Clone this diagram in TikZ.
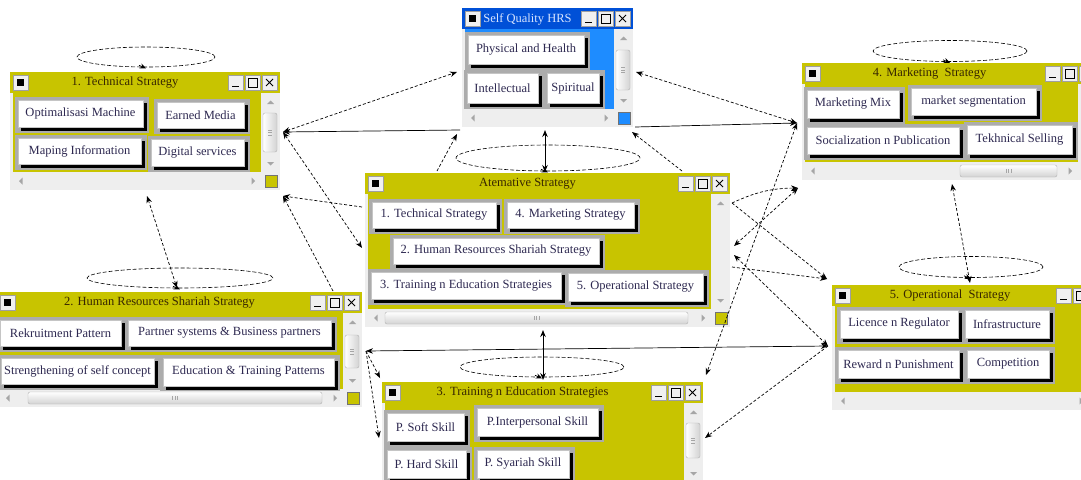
\documentclass[tikz,border=0pt]{standalone}
\usepackage{fontspec}
\setmainfont{Liberation Serif}
\usetikzlibrary{arrows.meta,calc,shapes.geometric}
\definecolor{ylw}{RGB}{200,196,0}
\definecolor{blu}{RGB}{0,80,215}
\definecolor{bluc}{RGB}{30,140,255}
\definecolor{wgray}{RGB}{238,238,238}
\definecolor{pgray}{RGB}{172,172,172}
\definecolor{txt}{RGB}{45,40,80}
\definecolor{ttl}{RGB}{55,38,0}
\definecolor{ttlw}{RGB}{215,228,255}
\newcommand\bfnt{\fontsize{12.5}{14}\selectfont}
\tikzset{
  btnface/.style={fill=white, draw=pgray!70, line width=0.6pt, inner sep=0pt, font=\bfnt, text=txt},
  ttlfont/.style={font=\bfnt, inner sep=0pt},
  tbb/.style={fill=gray!12, draw=gray!75, line width=0.6pt},
  loopell/.style={ellipse, draw, dash pattern=on 4pt off 2pt, line width=0.6pt, inner sep=0pt},
  conn/.style={line width=0.7pt},
  dsh/.style={conn, dash pattern=on 3pt off 2pt},
  tip/.style={-{Stealth[length=7pt,width=5.5pt]}},
  tips/.style={{Stealth[length=7pt,width=5.5pt]}-{Stealth[length=7pt,width=5.5pt]}},
}
% button: name, x1, y1, x2, y2, text
\newcommand\btn[6]{%
  \fill[pgray] (#2-3,#3-3) rectangle (#4+2,#5+2);
  \fill[black] (#2+3,#3+3) rectangle (#4,#5);
  \node[btnface, minimum width={#4-#2-4}, minimum height={#5-#3-4}] (#1) at ({(#2+#4-4)/2},{(#3+#5-4)/2}) {#6};
}
% window: name, x1, y1, x2, y2, title, bar colour, content colour, title colour
\newcommand\win[9]{%
  \fill[wgray] (#2,#3) rectangle (#4,#5);
  \fill[#7] (#2,#3) rectangle (#4,#3+21);
  \fill[#8] (#2+3,#3+21) rectangle (#4-19,#5-18);
  \node[ttlfont, text=#9] (#1) at ({(#2+#4-40)/2},#3+11) {#6};
  \draw[tbb] (#2+3,#3+3) rectangle (#2+18,#3+18);
  \fill[black] (#2+7,#3+7) rectangle (#2+14,#3+14);
  \draw[tbb] (#4-52,#3+3) rectangle (#4-37,#3+18);
  \draw[line width=1.8pt] (#4-48,#3+14.5) -- (#4-41,#3+14.5);
  \draw[tbb] (#4-35,#3+3) rectangle (#4-20,#3+18);
  \draw[line width=1pt] (#4-32,#3+6) rectangle (#4-23,#3+15);
  \draw[tbb] (#4-18,#3+3) rectangle (#4-3,#3+18);
  \draw[line width=1pt] (#4-14,#3+7) -- (#4-7,#3+14) (#4-14,#3+14) -- (#4-7,#3+7);
  \fill[gray!70] (#4-13,#3+32) -- (#4-6,#3+32) -- (#4-9.5,#3+28.5) -- cycle;
  \fill[gray!70] (#4-13,#5-28) -- (#4-6,#5-28) -- (#4-9.5,#5-24.5) -- cycle;
  \fill[gray!70] (#2+9,#5-9) -- (#2+12.5,#5-12.5) -- (#2+12.5,#5-5.5) -- cycle;
  \fill[gray!70] (#4-25,#5-9) -- (#4-28.5,#5-12.5) -- (#4-28.5,#5-5.5) -- cycle;
  \filldraw[fill=#8, draw=black!55, line width=0.5pt] (#4-15,#5-15) rectangle (#4-3,#5-3);
}
% vertical thumb: x2, ya, yb
\newcommand\vthumb[3]{%
  \shade[left color=white, right color=gray!35, draw=gray!60, rounded corners=2pt] (#1-17,#2) rectangle (#1-3,#3);
  \draw[gray!70, line width=0.5pt] (#1-12,{(#2+#3)/2-2.5}) -- (#1-8,{(#2+#3)/2-2.5})
    (#1-12,{(#2+#3)/2}) -- (#1-8,{(#2+#3)/2}) (#1-12,{(#2+#3)/2+2.5}) -- (#1-8,{(#2+#3)/2+2.5});
}
% horizontal thumb: xa, xb, y2
\newcommand\hthumb[3]{%
  \shade[top color=white, bottom color=gray!35, draw=gray!60, rounded corners=2pt] (#1,#3-15) rectangle (#2,#3-3);
  \draw[gray!70, line width=0.5pt] ({(#1+#2)/2-2.5},#3-11) -- ({(#1+#2)/2-2.5},#3-7)
    ({(#1+#2)/2},#3-11) -- ({(#1+#2)/2},#3-7) ({(#1+#2)/2+2.5},#3-11) -- ({(#1+#2)/2+2.5},#3-7);
}
\begin{document}
\begin{tikzpicture}[x=1pt,y=-1pt]
\useasboundingbox (0,0) rectangle (1081,479);
\clip (0,0) rectangle (1081,479);
\fill[white] (0,0) rectangle (1081,479);

% ---------- self loops ----------
\node[loopell, minimum width=138, minimum height=20] (l1) at (146,57) {};
\node[loopell, minimum width=184, minimum height=26] (l2) at (548,158) {};
\node[loopell, minimum width=154, minimum height=21] (l3) at (950,51) {};
\node[loopell, minimum width=186, minimum height=20] (l4) at (180,278) {};
\node[loopell, minimum width=164, minimum height=20] (l5) at (542,367) {};
\node[loopell, minimum width=144, minimum height=21] (l6) at (971,267) {};

% ---------- 1. Technical Strategy ----------
\win{w1}{10}{72}{280}{190}{1. Technical Strategy}{ylw}{ylw}{ttl}
\vthumb{280}{113}{152}
\btn{b11}{18}{100}{147}{131}{Optimalisasi Machine}
\btn{b12}{157}{102}{248}{132}{Earned Media}
\btn{b13}{18}{138}{145}{168}{Maping Information}
\btn{b14}{151}{139}{248}{170}{Digital services}

% ---------- Self Quality HRS ----------
\win{w2}{462}{8}{633}{127}{Self Quality HRS}{blu}{bluc}{ttlw}
\vthumb{633}{50}{90}
\btn{b21}{468}{35}{588}{68}{Physical and Health}
\btn{b22}{467}{73}{542}{107}{Intellectual}
\btn{b23}{547}{73}{603}{107}{Spiritual}

% ---------- 4. Marketing Strategy ----------
\win{w3}{802}{63}{1097}{180}{4. Marketing\ \ Strategy}{ylw}{ylw}{ttl}
\hthumb{960}{1057}{180}
\btn{b31}{807}{90}{903}{122}{Marketing Mix}
\btn{b32}{911}{88}{1040}{119}{market segmentation}
\btn{b33}{807}{127}{963}{158}{Socialization n Publication}
\btn{b34}{967}{125}{1076}{158}{Tekhnical Selling}

% ---------- Atemative Strategy ----------
\win{w4}{365}{173}{730}{327}{Atemative Strategy}{ylw}{ylw}{ttl}
\hthumb{385}{688}{327}
\btn{b41}{372}{202}{500}{232}{1. Technical Strategy}
\btn{b42}{507}{202}{638}{232}{4. Marketing Strategy}
\btn{b43}{393}{238}{603}{268}{2. Human Resources Shariah Strategy}
\btn{b44}{371}{272}{565}{303}{3. Training n Education Strategies}
\btn{b45}{568}{273}{707}{305}{5. Operational Strategy}

% ---------- 2. Human Resources Shariah Strategy ----------
\win{w5}{-3}{292}{362}{407}{2. Human Resources Shariah Strategy}{ylw}{ylw}{ttl}
\vthumb{362}{335}{368}
\hthumb{28}{322}{407}
\begin{scope}
\clip (0,313) rectangle (343,390);
\btn{b51}{0}{320}{125}{350}{Rekruitment Pattern}
\btn{b52}{128}{320}{335}{350}{Partner systems \& Business partners}
\btn{b53}{1}{358}{158}{388}{Strengthening of self concept}
\btn{b54}{163}{358}{338}{390}{Education \& Training Patterns}
\end{scope}

% ---------- 3. Training n Education Strategies ----------
\win{w6}{382}{382}{703}{500}{3. Training n Education Strategies}{ylw}{ylw}{ttl}
\vthumb{703}{423}{458}
\btn{b61}{387}{413}{468}{445}{P. Soft Skill}
\btn{b62}{477}{408}{602}{440}{P.Interpersonal Skill}
\btn{b63}{387}{450}{470}{482}{P. Hard Skill}
\btn{b64}{477}{450}{573}{482}{P. Syariah Skill}

% ---------- 5. Operational Strategy ----------
\win{w7}{832}{285}{1108}{410}{5. Operational\ \ Strategy}{ylw}{ylw}{ttl}
\btn{b71}{840}{310}{962}{342}{Licence n Regulator}
\btn{b72}{965}{310}{1053}{342}{Infrastructure}
\btn{b73}{838}{350}{963}{382}{Reward n Punishment}
\btn{b74}{967}{350}{1053}{382}{Competition}

% ---------- self-loop tips ----------
\foreach \l in {l1,l2,l3,l4,l5,l6}{
  \draw[conn, -{Stealth[length=6pt,width=5pt]}] ($(\l.south)+(-7,-2)$) -- ($(\l.south)+(0,1)$);
}

% ---------- connector end points ----------
\coordinate (cT1) at (283,132);
\coordinate (cT2) at (283,196);
\coordinate (cT3) at (147,196);
\coordinate (cS1) at (457,72);
\coordinate (cS2) at (460,130);
\coordinate (cS3) at (457,134);
\coordinate (cS4) at (636,72);
\coordinate (cS5) at (635,127);
\coordinate (cS6) at (632,132);
\coordinate (cS7) at (545,130);
\coordinate (cA1) at (362,248);
\coordinate (cA2) at (362,207);
\coordinate (cA3) at (437,171);
\coordinate (cA4) at (545,172);
\coordinate (cA5) at (682,171);
\coordinate (cA6) at (732,203);
\coordinate (cA7) at (734,246);
\coordinate (cA8) at (734,255);
\coordinate (cA9) at (732,267);
\coordinate (cA10) at (543,330);
\coordinate (cH1) at (333,291);
\coordinate (cH2) at (177,288);
\coordinate (cH3) at (366,351);
\coordinate (cM1) at (797,123);
\coordinate (cM2) at (798,188);
\coordinate (cM3) at (952,184);
\coordinate (cO1) at (827,279);
\coordinate (cO2) at (828,346);
\coordinate (cO3) at (970,283);
\coordinate (cR1) at (543,380);
\coordinate (cR2) at (380,378);
\coordinate (cR3) at (379,438);
\coordinate (cR4) at (706,375);
\coordinate (cR5) at (705,438);

% ---------- connectors ----------
\draw[dsh, tips] (cT1) -- (cS1);
\draw[conn, tip] (cS2) -- (cT1);
\draw[dsh, tips] (cT1) -- (cA1);
\draw[dsh, tip] (cA2) -- (cT2);
\draw[dsh, tip] (cH1) -- (cT2);
\draw[dsh, tip] (cA3) -- (cS3);
\draw[dsh, tips] (cT3) -- (cH2);
\draw[conn, tips, line width=1pt] (cS7) -- (cA4);
\draw[dsh, tips] (cS4) -- (cM1);
\draw[conn, tip] (cS5) -- (cM1);
\draw[dsh, tip] (cA5) -- (cS6);
\draw[dsh, tips] (cM1) -- (cR4);
\draw[dsh, tip] (cA6) to[bend left=12] (cM2);
\draw[dsh, tips] (cM2) -- (cA7);
\draw[dsh, tip] (cA6) -- (cO1);
\draw[dsh, tip] (cA9) -- (cO1);
\draw[dsh, tips] (cA8) -- (cO2);
\draw[conn, tips] (cH3) -- (cO2);
\draw[dsh, tip] (cO2) -- (cR5);
\draw[conn, tips, line width=1pt] (cA10) -- (cR1);
\draw[dsh, tip] (cH3) -- (cR2);
\draw[dsh, tip] (cH3) -- (cR3);
\draw[dsh, tips] (cM3) -- (cO3);
\end{tikzpicture}
\end{document}
